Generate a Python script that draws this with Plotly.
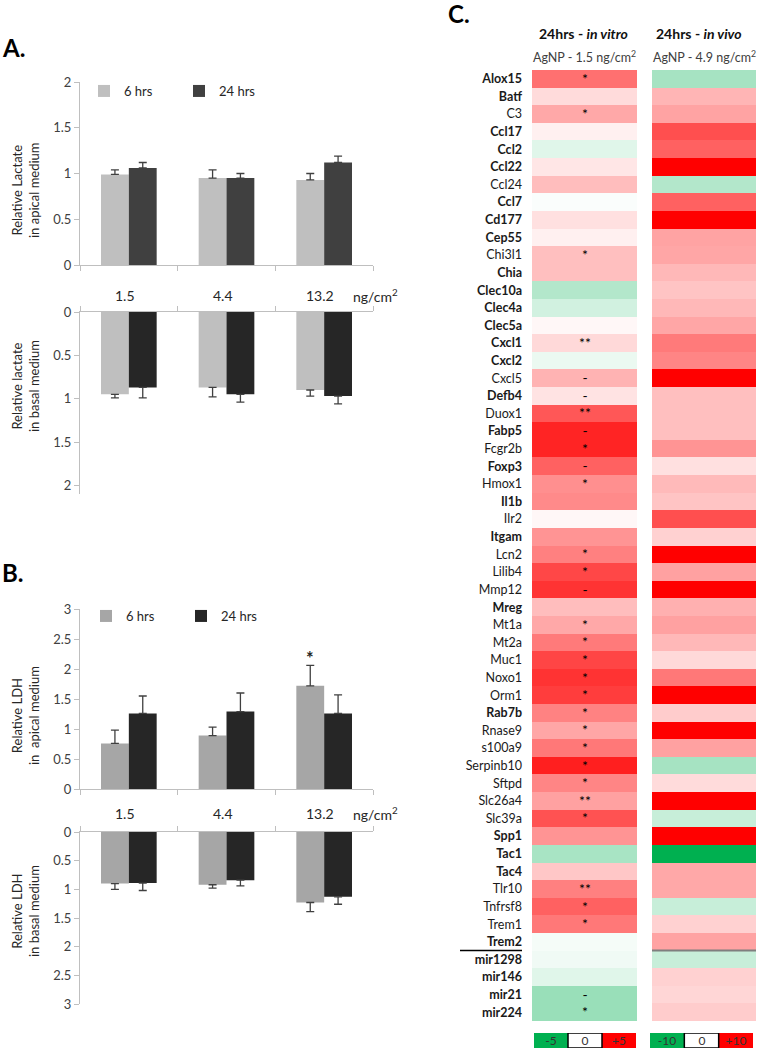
import plotly.graph_objects as go

W, H = 757, 1050


def px_x(v):
    return v / W


def px_y(v):
    return 1 - v / H


FONT = "Lato, 'Open Sans', sans-serif"

# ---------------- Panel A / B bar data ----------------
doses = ["1.5", "4.4", "13.2"]

lac_apical_6h = [0.99, 0.95, 0.93]
lac_apical_6h_err = [0.05, 0.09, 0.07]
lac_apical_24h = [1.06, 0.95, 1.12]
lac_apical_24h_err = [0.06, 0.05, 0.07]

lac_basal_6h = [0.95, 0.87, 0.90]
lac_basal_6h_err = [0.04, 0.11, 0.07]
lac_basal_24h = [0.87, 0.95, 0.97]
lac_basal_24h_err = [0.12, 0.09, 0.09]

ldh_apical_6h = [0.76, 0.89, 1.72]
ldh_apical_6h_err = [0.22, 0.14, 0.34]
ldh_apical_24h = [1.26, 1.29, 1.26]
ldh_apical_24h_err = [0.29, 0.31, 0.31]

ldh_basal_6h = [0.90, 0.92, 1.23]
ldh_basal_6h_err = [0.10, 0.06, 0.16]
ldh_basal_24h = [0.89, 0.84, 1.13]
ldh_basal_24h_err = [0.13, 0.10, 0.13]

# ---------------- Panel C heatmap data ----------------
genes = ["Alox15", "Batf", "C3", "Ccl17", "Ccl2", "Ccl22", "Ccl24", "Ccl7", "Cd177", "Cep55",
         "Chi3l1", "Chia", "Clec10a", "Clec4a", "Clec5a", "Cxcl1", "Cxcl2", "Cxcl5", "Defb4", "Duox1",
         "Fabp5", "Fcgr2b", "Foxp3", "Hmox1", "Il1b", "Ilr2", "Itgam", "Lcn2", "Lilib4", "Mmp12",
         "Mreg", "Mt1a", "Mt2a", "Muc1", "Noxo1", "Orm1", "Rab7b", "Rnase9", "s100a9", "Serpinb10",
         "Sftpd", "Slc26a4", "Slc39a", "Spp1", "Tac1", "Tac4", "Tlr10", "Tnfrsf8", "Trem1", "Trem2",
         "mir1298", "mir146", "mir21", "mir224"]

bold_genes = ["Alox15", "Batf", "Ccl17", "Ccl2", "Ccl22", "Ccl7", "Cd177", "Cep55", "Chia",
              "Clec10a", "Clec4a", "Clec5a", "Cxcl1", "Cxcl2", "Defb4", "Fabp5", "Foxp3", "Il1b",
              "Itgam", "Mreg", "Rab7b", "Spp1", "Tac1", "Tac4", "Trem2",
              "mir1298", "mir146", "mir21", "mir224"]

in_vitro = [2.8, 0.7, 1.7, 0.3, -0.6, 0.5, 1.3, -0.1, 0.6, 0.3,
            1.25, 1.25, -1.5, -0.9, 0.15, 0.75, -0.4, 1.5, 0.55, 3.3,
            4.3, 4.3, 3.1, 2.2, 2.3, 0.15, 2.1, 2.5, 3.6, 4.0,
            1.3, 1.7, 2.6, 3.65, 4.0, 3.8, 2.45, 1.75, 2.65, 4.4,
            2.4, 1.85, 3.4, 2.1, -1.7, 1.1, 2.5, 3.1, 2.65, -0.2,
            -0.3, -0.6, -2.0, -2.0]

in_vivo = [-3.5, 2.9, 3.6, 6.9, 6.2, 10, -3.0, 6.2, 10, 3.6,
           3.5, 2.8, 2.3, 2.8, 3.5, 5.2, 4.8, 10, 2.5, 2.5,
           2.5, 4.2, 1.2, 2.7, 2.3, 6.9, 1.8, 10, 3.7, 10,
           3.1, 3.7, 2.8, 1.5, 5.3, 10, 2.0, 10, 3.7, -3.5,
           1.4, 10, -2.2, 10, -10, 3.4, 3.4, -2.2, 1.8, 3.6,
           -2.2, 1.8, 1.6, 2.0]

significance = ["*", "", "*", "", "", "", "", "", "", "",
                "*", "", "", "", "", "**", "", "-", "-", "**",
                "-", "*", "-", "*", "", "", "", "*", "*", "-",
                "", "*", "*", "*", "*", "*", "*", "*", "*", "*",
                "*", "**", "*", "", "", "", "**", "*", "*", "",
                "", "", "-", "*"]

key_vitro = [-5, 0, 5]
key_vitro_text = ["-5", "0", "+5"]
key_vivo = [-10, 0, 10]
key_vivo_text = ["-10", "0", "+10"]

GREEN_RED = [[0, "#00B050"], [0.5, "#FFFFFF"], [1, "#FF0000"]]

fig = go.Figure()


def err(arr):
    return dict(type="data", array=arr, arrayminus=[0] * len(arr), symmetric=False,
                color="#404040", thickness=1.3, width=4)


# Panel A top
fig.add_trace(go.Bar(x=doses, y=lac_apical_6h, error_y=err(lac_apical_6h_err), name="6 hrs",
                     marker=dict(color="#BFBFBF", line=dict(width=0)), xaxis="x", yaxis="y",
                     legend="legend", offsetgroup="a"))
fig.add_trace(go.Bar(x=doses, y=lac_apical_24h, error_y=err(lac_apical_24h_err), name="24 hrs",
                     marker=dict(color="#404040", line=dict(width=0)), xaxis="x", yaxis="y",
                     legend="legend", offsetgroup="b"))
# Panel A bottom
fig.add_trace(go.Bar(x=doses, y=lac_basal_6h, error_y=err(lac_basal_6h_err), showlegend=False,
                     marker=dict(color="#BFBFBF", line=dict(width=0)), xaxis="x2", yaxis="y2",
                     offsetgroup="a"))
fig.add_trace(go.Bar(x=doses, y=lac_basal_24h, error_y=err(lac_basal_24h_err), showlegend=False,
                     marker=dict(color="#262626", line=dict(width=0)), xaxis="x2", yaxis="y2",
                     offsetgroup="b"))
# Panel B top
fig.add_trace(go.Bar(x=doses, y=ldh_apical_6h, error_y=err(ldh_apical_6h_err), name="6 hrs",
                     marker=dict(color="#A6A6A6", line=dict(width=0)), xaxis="x3", yaxis="y3",
                     legend="legend2", offsetgroup="a"))
fig.add_trace(go.Bar(x=doses, y=ldh_apical_24h, error_y=err(ldh_apical_24h_err), name="24 hrs",
                     marker=dict(color="#262626", line=dict(width=0)), xaxis="x3", yaxis="y3",
                     legend="legend2", offsetgroup="b"))
# Panel B bottom
fig.add_trace(go.Bar(x=doses, y=ldh_basal_6h, error_y=err(ldh_basal_6h_err), showlegend=False,
                     marker=dict(color="#A6A6A6", line=dict(width=0)), xaxis="x4", yaxis="y4",
                     offsetgroup="a"))
fig.add_trace(go.Bar(x=doses, y=ldh_basal_24h, error_y=err(ldh_basal_24h_err), showlegend=False,
                     marker=dict(color="#262626", line=dict(width=0)), xaxis="x4", yaxis="y4",
                     offsetgroup="b"))

# Panel C heatmaps
rows = list(range(len(genes)))
fig.add_trace(go.Heatmap(z=[[v] for v in in_vitro], x=[0], y=rows, colorscale=GREEN_RED,
                         zmin=-5, zmax=5, showscale=False, text=[[s] for s in significance],
                         texttemplate="%{text}", textfont=dict(size=14, color="#000000"),
                         xaxis="x5", yaxis="y5", hoverinfo="skip"))
fig.add_trace(go.Heatmap(z=[[v] for v in in_vivo], x=[0], y=rows, colorscale=GREEN_RED,
                         zmin=-10, zmax=10, showscale=False, xaxis="x6", yaxis="y6",
                         hoverinfo="skip"))
# Colour keys
fig.add_trace(go.Heatmap(z=[key_vitro], x=[0, 1, 2], y=[0], colorscale=GREEN_RED, zmin=-5, zmax=5,
                         showscale=False, text=[key_vitro_text], texttemplate="%{text}",
                         textfont=dict(size=12, color="#333333"), xaxis="x7", yaxis="y7",
                         hoverinfo="skip"))
fig.add_trace(go.Heatmap(z=[key_vivo], x=[0, 1, 2], y=[0], colorscale=GREEN_RED, zmin=-10, zmax=10,
                         showscale=False, text=[key_vivo_text], texttemplate="%{text}",
                         textfont=dict(size=12, color="#333333"), xaxis="x8", yaxis="y8",
                         hoverinfo="skip"))

bar_xdom = [px_x(80), px_x(373)]
axcol = "#BFBFBF"
tickfont = dict(size=13, color="#404040", family=FONT)


def bar_xaxis(anchor, side):
    return dict(domain=bar_xdom, anchor=anchor, type="category", range=[-0.5, 2.5], side=side,
                showline=True, linecolor=axcol, linewidth=1, ticks="outside", tickson="boundaries",
                ticklen=5, tickcolor=axcol, showticklabels=False, showgrid=False, zeroline=False,
                fixedrange=True, automargin=False)


def bar_yaxis(anchor, dom, rng):
    return dict(domain=dom, anchor=anchor, range=rng, tick0=0, dtick=0.5, showline=True,
                linecolor=axcol, linewidth=1, ticks="outside", ticklen=5, tickcolor=axcol,
                tickfont=tickfont, showgrid=False, zeroline=False, fixedrange=True,
                automargin=False)


def hidden(dom, anchor, rng):
    return dict(domain=dom, anchor=anchor, visible=False, range=rng, automargin=False,
                fixedrange=True)


gene_ticktext = [("<b>%s</b>" % g) if g in bold_genes else g for g in genes]

fig.update_layout(
    width=W, height=H, margin=dict(l=0, r=0, t=0, b=0, pad=0, autoexpand=False),
    paper_bgcolor="white", plot_bgcolor="white",
    font=dict(family=FONT, color="#262626"),
    bargap=0.43, bargroupgap=0, barmode="group",
    xaxis=bar_xaxis("y", "bottom"),
    yaxis=bar_yaxis("x", [px_y(265), px_y(82)], [0, 2]),
    xaxis2=bar_xaxis("y2", "top"),
    yaxis2=bar_yaxis("x2", [px_y(494), px_y(312)], [2.1, 0]),
    xaxis3=bar_xaxis("y3", "bottom"),
    yaxis3=bar_yaxis("x3", [px_y(789), px_y(609)], [0, 3]),
    xaxis4=bar_xaxis("y4", "top"),
    yaxis4=bar_yaxis("x4", [px_y(1004), px_y(832)], [3, 0]),
    xaxis5=hidden([px_x(532), px_x(637)], "y5", [-0.5, 0.5]),
    yaxis5=dict(domain=[px_y(1021), px_y(70)], anchor="x5", range=[len(genes) - 0.5, -0.5],
                tickmode="array", tickvals=rows, ticktext=gene_ticktext, ticks="",
                tickfont=dict(size=12.5, color="#1a1a1a", family=FONT), showgrid=False,
                zeroline=False, showline=False, ticklabelstandoff=9, automargin=False,
                fixedrange=True),
    xaxis6=hidden([px_x(652), px_x(756)], "y6", [-0.5, 0.5]),
    yaxis6=hidden([px_y(1021), px_y(70)], "x6", [len(genes) - 0.5, -0.5]),
    xaxis7=hidden([px_x(534), px_x(636)], "y7", [-0.5, 2.5]),
    yaxis7=hidden([px_y(1048), px_y(1033)], "x7", [-0.5, 0.5]),
    xaxis8=hidden([px_x(650), px_x(753)], "y8", [-0.5, 2.5]),
    yaxis8=hidden([px_y(1048), px_y(1033)], "x8", [-0.5, 0.5]),
    legend=dict(x=px_x(84), y=px_y(91), xanchor="left", yanchor="middle", orientation="h",
                font=dict(size=13, color="#262626", family=FONT), bgcolor="rgba(0,0,0,0)",
                entrywidth=50, entrywidthmode="pixels", itemclick=False, itemdoubleclick=False),
    legend2=dict(x=px_x(86), y=px_y(616), xanchor="left", yanchor="middle", orientation="h",
                 font=dict(size=13, color="#262626", family=FONT), bgcolor="rgba(0,0,0,0)",
                 entrywidth=50, entrywidthmode="pixels", itemclick=False, itemdoubleclick=False),
)

shapes = [
    dict(type="rect", xref="x7", yref="y7", x0=0.5, x1=1.5, y0=-0.5, y1=0.5,
         line=dict(color="#000000", width=1.5)),
    dict(type="rect", xref="x8", yref="y8", x0=0.5, x1=1.5, y0=-0.5, y1=0.5,
         line=dict(color="#000000", width=1.5)),
    dict(type="line", xref="paper", yref="y5", x0=px_x(460), x1=px_x(522), y0=49.5, y1=49.5,
         line=dict(color="#000000", width=1.5)),
    dict(type="line", xref="x6", yref="y6", x0=-0.5, x1=0.5, y0=49.5, y1=49.5,
         line=dict(color="#7F7F7F", width=2)),
]
fig.update_layout(shapes=shapes)

ann = []
# Panel letters
for txt, x, y in [("A.", 0, 48), ("B.", 0, 572), ("C.", 446, 14)]:
    ann.append(dict(text="<b>%s</b>" % txt, x=px_x(x), y=px_y(y), xref="paper", yref="paper",
                    xanchor="left", yanchor="middle", showarrow=False,
                    font=dict(size=24, color="#000000", family=FONT)))

# Y axis titles
for txt, y in [("Relative Lactate<br>in apical medium", 190),
               ("Relative lactate<br>in basal medium", 386),
               ("Relative LDH<br>in  apical medium", 716),
               ("Relative LDH<br>in basal medium", 911)]:
    ann.append(dict(text=txt, x=px_x(25), y=px_y(y), xref="paper", yref="paper", textangle=-90,
                    xanchor="center", yanchor="middle", showarrow=False,
                    font=dict(size=13, color="#262626", family=FONT)))

# Dose labels
for xr, ypx in [("x", 295), ("x3", 813)]:
    for i, d in enumerate(doses):
        ann.append(dict(text=d, x=i, y=px_y(ypx), xref=xr, yref="paper", xanchor="center",
                        yanchor="middle", xshift=-4, showarrow=False,
                        font=dict(size=14, color="#262626", family=FONT)))
    ann.append(dict(text="ng/cm<sup>2</sup>", x=2, y=px_y(ypx), xref=xr, yref="paper",
                    xanchor="left", yanchor="middle", xshift=27, showarrow=False,
                    font=dict(size=14, color="#262626", family=FONT)))

# Significance star in B
ann.append(dict(text="<b>*</b>", x=2, y=ldh_apical_6h[2] + ldh_apical_6h_err[2], xref="x3",
                yref="y3", xshift=-14, yanchor="bottom", yshift=-6, showarrow=False,
                font=dict(size=18, color="#262626", family=FONT)))

# Heatmap headers
for txt, x, y, size, col in [
        ("<b>24hrs - <i>in vitro</i></b>", 583, 33, 14, "#111111"),
        ("AgNP - 1.5 ng/cm<sup>2</sup>", 584, 57, 12.5, "#404040"),
        ("<b>24hrs - <i>in vivo</i></b>", 699, 33, 14, "#111111"),
        ("AgNP - 4.9 ng/cm<sup>2</sup>", 704, 57, 12.5, "#404040")]:
    ann.append(dict(text=txt, x=px_x(x), y=px_y(y), xref="paper", yref="paper",
                    xanchor="center", yanchor="middle", showarrow=False,
                    font=dict(size=size, color=col, family=FONT)))

fig.update_layout(annotations=ann)

fig.write_html("out.html", config={"displayModeBar": False},
               post_script="document.body.style.margin='0';document.body.style.padding='0';")
